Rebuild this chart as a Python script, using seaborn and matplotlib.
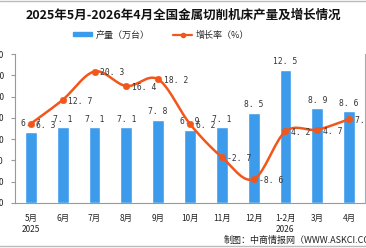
import seaborn as sns
import matplotlib.pyplot as plt
import matplotlib.lines as mlines
import matplotlib.patches as mpatches
import pandas as pd
import numpy as np

months = ['5月\n2025', '6月', '7月', '8月', '9月', '10月', '11月', '12月', '1-2月\n2026', '3月', '4月']
output = [6.7, 7.1, 7.1, 7.1, 7.8, 6.9, 7.1, 8.5, 12.5, 8.9, 8.6]
growth = [6.3, 12.7, 20.3, 16.4, 18.2, 6.2, -2.7, -8.6, 4.2, 4.7, 7.5]

df = pd.DataFrame({'month': months, 'output': output, 'growth': growth})
df['x'] = np.arange(len(df))

sns.set_style('white')
plt.rcParams['font.family'] = ['Noto Sans CJK SC', 'DejaVu Sans']

blue = '#3d9bec'
orange = '#f2561a'
grey = '#999999'

fig = plt.figure(figsize=(3.66, 2.48), dpi=100)
ax = fig.add_axes([15 / 366, 45 / 248, 350 / 366, 149 / 248])

sns.barplot(data=df, x='x', y='output', color=blue, width=0.37, saturation=1, ax=ax)
ax.set_xlim(-0.5, len(df) - 0.5)
ax.set_ylim(0, 14)
ax.set_yticks(np.arange(0, 15, 2))
ax.set_yticklabels([f'{v:.1f}' for v in np.arange(0, 15, 2)], fontsize=6)
ax.set_xticks(df['x'])
ax.set_xticklabels(df['month'], fontsize=6, fontweight='medium', linespacing=1.2)
ax.set_xticks(np.arange(-0.5, len(df), 1), minor=True)
ax.tick_params(axis='x', which='major', length=0, pad=8, colors='#222222')
ax.tick_params(axis='x', which='minor', length=3, color=grey, direction='out', width=0.8)
ax.tick_params(axis='y', length=3, color=grey, direction='out', width=0.8, pad=5, labelcolor='#222222')
ax.set_xlabel('')
ax.set_ylabel('')
for s in ['top', 'right']:
    ax.spines[s].set_visible(False)
for s in ['left', 'bottom']:
    ax.spines[s].set_color(grey)
    ax.spines[s].set_linewidth(0.8)

for xi, v in zip(df['x'], df['output']):
    ax.text(xi, v + 0.35, f'{v:.1f}'.replace('.', '. '), ha='center', va='bottom',
            fontsize=5.8, family='DejaVu Sans Mono', color='#333333')

ax2 = ax.twinx()
ax2.set_ylim(-15, 25)
ax2.set_yticks([])
for s in ['top', 'left', 'bottom']:
    ax2.spines[s].set_visible(False)
ax2.spines['right'].set_color('#aaaaaa')
ax2.spines['right'].set_linewidth(0.8)

# smoothed curve (Catmull-Rom) through the growth points
xs = df['x'].to_numpy(dtype=float)
ys = df['growth'].to_numpy(dtype=float)
px = np.concatenate([[2 * xs[0] - xs[1]], xs, [2 * xs[-1] - xs[-2]]])
py = np.concatenate([[2 * ys[0] - ys[1]], ys, [2 * ys[-1] - ys[-2]]])
cx, cy = [], []
t = np.linspace(0, 1, 20)
for i in range(1, len(px) - 2):
    p0, p1, p2, p3 = py[i - 1], py[i], py[i + 1], py[i + 2]
    q0, q1, q2, q3 = px[i - 1], px[i], px[i + 1], px[i + 2]
    cy.extend(0.5 * (2 * p1 + (-p0 + p2) * t + (2 * p0 - 5 * p1 + 4 * p2 - p3) * t ** 2 + (-p0 + 3 * p1 - 3 * p2 + p3) * t ** 3))
    cx.extend(0.5 * (2 * q1 + (-q0 + q2) * t + (2 * q0 - 5 * q1 + 4 * q2 - q3) * t ** 2 + (-q0 + 3 * q1 - 3 * q2 + q3) * t ** 3))
ax2.plot(cx, cy, color=orange, lw=1.8, solid_capstyle='round')
sns.scatterplot(data=df, x='x', y='growth', color=orange, s=22, edgecolor=orange, ax=ax2, zorder=5)
ax2.set_xlabel('')
ax2.set_ylabel('')
ax2.set_xlim(-0.5, len(df) - 0.5)

for xi, v in zip(df['x'], df['growth']):
    ax2.annotate(f'{v:.1f}'.replace('.', '. '), (xi, v), xytext=(4, -1), textcoords='offset points',
                 ha='left', va='center', fontsize=5.8, family='DejaVu Sans Mono', color='#333333',
                 annotation_clip=False)

fig.text(0.5, 1 - 15 / 248, '2025年5月-2026年4月全国金属切削机床产量及增长情况', ha='center', va='center',
         fontsize=9, fontweight='bold', color='#111111')

h1 = mpatches.Patch(color=blue)
h2 = mlines.Line2D([], [], color=orange, lw=1.6, marker='o', markersize=3)
fig.legend([h1, h2], ['产量（万台）', '增长率（%）'], loc='center', bbox_to_anchor=(0.44, 1 - 35 / 248),
           ncol=2, frameon=False, fontsize=6.5, handlelength=2.2, handleheight=0.35, columnspacing=2.5,
           handletextpad=0.4)

fig.text(224 / 366, 1 - 240 / 248, '制图：中商情报网（WWW.ASKCI.COM）', ha='left', va='center',
         fontsize=6.5, fontweight='medium', color='#222222')

fig.add_artist(mlines.Line2D([0, 1], [1 - 1 / 248, 1 - 1 / 248], color='#bbbbbb', lw=1))
fig.add_artist(mlines.Line2D([0, 1], [2 / 248, 2 / 248], color='#bbbbbb', lw=1))

fig.savefig('out.png', dpi=100)
